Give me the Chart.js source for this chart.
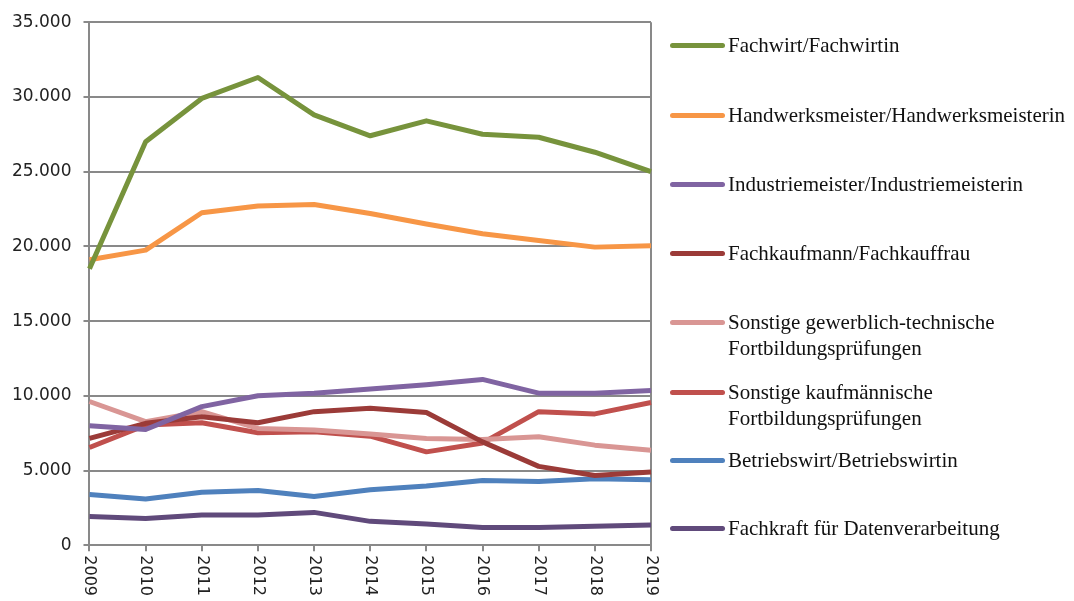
<!DOCTYPE html>
<html>
<head>
<meta charset="utf-8">
<script src="https://cdn.jsdelivr.net/npm/chart.js@4"></script>
<style>
  body { margin: 0; background: #fff; }
  #wrap { position: relative; width: 1074px; height: 601px; }
  #legend { position: absolute; left: 0; top: 0; }
  .lg-line { position: absolute; left: 670px; width: 55px; height: 5px; border-radius: 3px; }
  .lg-text { position: absolute; left: 728px; font-family: "Liberation Serif", serif; font-size: 21px; line-height: 26px; color: #111; white-space: nowrap; }
</style>
</head>
<body>
<div id="wrap">
  <canvas id="chart" width="1074" height="601"></canvas>
  <div id="legend"></div>
</div>
<script>
'use strict'

// data
const years = ['2009', '2010', '2011', '2012', '2013', '2014', '2015', '2016', '2017', '2018', '2019'];
const fachwirt = [18500, 27000, 29900, 31300, 28800, 27400, 28400, 27500, 27300, 26300, 25000];
const handwerksmeister = [19100, 19750, 22250, 22700, 22800, 22200, 21500, 20850, 20400, 19950, 20050];
const industriemeister = [8000, 7750, 9280, 10000, 10180, 10450, 10740, 11100, 10180, 10180, 10360];
const fachkaufmann = [7150, 8160, 8600, 8200, 8940, 9170, 8880, 6920, 5280, 4670, 4900];
const sonstigeGewerblich = [9620, 8270, 8940, 7820, 7710, 7440, 7150, 7080, 7260, 6700, 6360];
const sonstigeKaufm = [6540, 8040, 8200, 7530, 7600, 7300, 6250, 6850, 8940, 8790, 9550];
const betriebswirt = [3390, 3100, 3550, 3660, 3260, 3710, 3960, 4340, 4270, 4450, 4380];
const fachkraftDV = [1930, 1800, 2020, 2020, 2200, 1600, 1420, 1190, 1190, 1280, 1350];

const seriesNames = [
    ['Fachwirt/Fachwirtin'],
    ['Handwerksmeister/Handwerksmeisterin'],
    ['Industriemeister/Industriemeisterin'],
    ['Fachkaufmann/Fachkauffrau'],
    ['Sonstige gewerblich-technische', 'Fortbildungsprüfungen'],
    ['Sonstige kaufmännische', 'Fortbildungsprüfungen'],
    ['Betriebswirt/Betriebswirtin'],
    ['Fachkraft für Datenverarbeitung']
];
const seriesValues = [fachwirt, handwerksmeister, industriemeister, fachkaufmann,
    sonstigeGewerblich, sonstigeKaufm, betriebswirt, fachkraftDV];
const seriesColors = ['#77933C', '#F79646', '#8064A2', '#9B3B38', '#D99694', '#C0504D', '#4F81BD', '#604A7B'];

// legend row centres (layout only)
const legendY = [45, 115, 184, 253, 322, 392, 460, 528];

const gray = '#898989';

function formatDE(v) {
    return String(v).replace(/\B(?=(\d{3})+(?!\d))/g, '.');
}

// x labels read top to bottom, like the original
const xLabelPlugin = {
    id: 'xLabels',
    afterDraw(chart) {
        let scale = chart.scales.x;
        let ctx = chart.ctx;
        ctx.save();
        ctx.font = '16px "DejaVu Sans"';
        ctx.fillStyle = '#222';
        ctx.textAlign = 'left';
        ctx.textBaseline = 'middle';
        for (let i = 0; i < years.length; i++) {
            let x = scale.getPixelForTick(i);
            ctx.save();
            ctx.translate(x, scale.top + 10);
            ctx.rotate(Math.PI / 2);
            ctx.fillText(years[i], 0, 0);
            ctx.restore();
        }
        ctx.restore();
    }
};

let datasets = [];
for (let k = 0; k < seriesValues.length; k++) {
    datasets.push({
        label: seriesNames[k].join(' '),
        data: seriesValues[k],
        borderColor: seriesColors[k],
        backgroundColor: seriesColors[k],
        borderWidth: 5,
        pointRadius: 0,
        tension: 0,
        borderJoinStyle: 'round',
        borderCapStyle: 'butt'
    });
}

let ctx = document.getElementById('chart').getContext('2d');
let chart = new Chart(ctx, {
    type: 'line',
    data: {
        labels: years,
        datasets: datasets
    },
    options: {
        responsive: false,
        animation: false,
        layout: {
            padding: { left: 0, right: 423, top: 13, bottom: 1 }
        },
        plugins: {
            legend: { display: false },
            tooltip: { enabled: false }
        },
        scales: {
            x: {
                offset: false,
                border: { color: gray, width: 2 },
                grid: {
                    color: (c) => c.index === years.length - 1 ? gray : 'rgba(0,0,0,0)',
                    tickColor: gray,
                    lineWidth: 2,
                    tickLength: 6
                },
                ticks: {
                    color: 'rgba(0,0,0,0)',
                    font: { family: 'DejaVu Sans', size: 16 },
                    minRotation: 90,
                    maxRotation: 90,
                    padding: 4,
                    autoSkip: false
                }
            },
            y: {
                min: 0,
                max: 35000,
                border: { color: gray, width: 2 },
                grid: {
                    color: gray,
                    tickColor: gray,
                    lineWidth: 2,
                    tickLength: 6
                },
                ticks: {
                    stepSize: 5000,
                    color: '#222',
                    font: { family: 'DejaVu Sans', size: 17 },
                    padding: 12,
                    callback: (v) => formatDE(v)
                }
            }
        }
    },
    plugins: [xLabelPlugin]
});

// legend in html
let legend = document.getElementById('legend');
for (let k = 0; k < seriesNames.length; k++) {
    let line = document.createElement('div');
    line.className = 'lg-line';
    line.style.background = seriesColors[k];
    line.style.top = (legendY[k] - 2.5) + 'px';
    legend.appendChild(line);

    let text = document.createElement('div');
    text.className = 'lg-text';
    text.style.top = (legendY[k] - 13) + 'px';
    text.innerHTML = seriesNames[k].join('<br>');
    legend.appendChild(text);
}
</script>
</body>
</html>
